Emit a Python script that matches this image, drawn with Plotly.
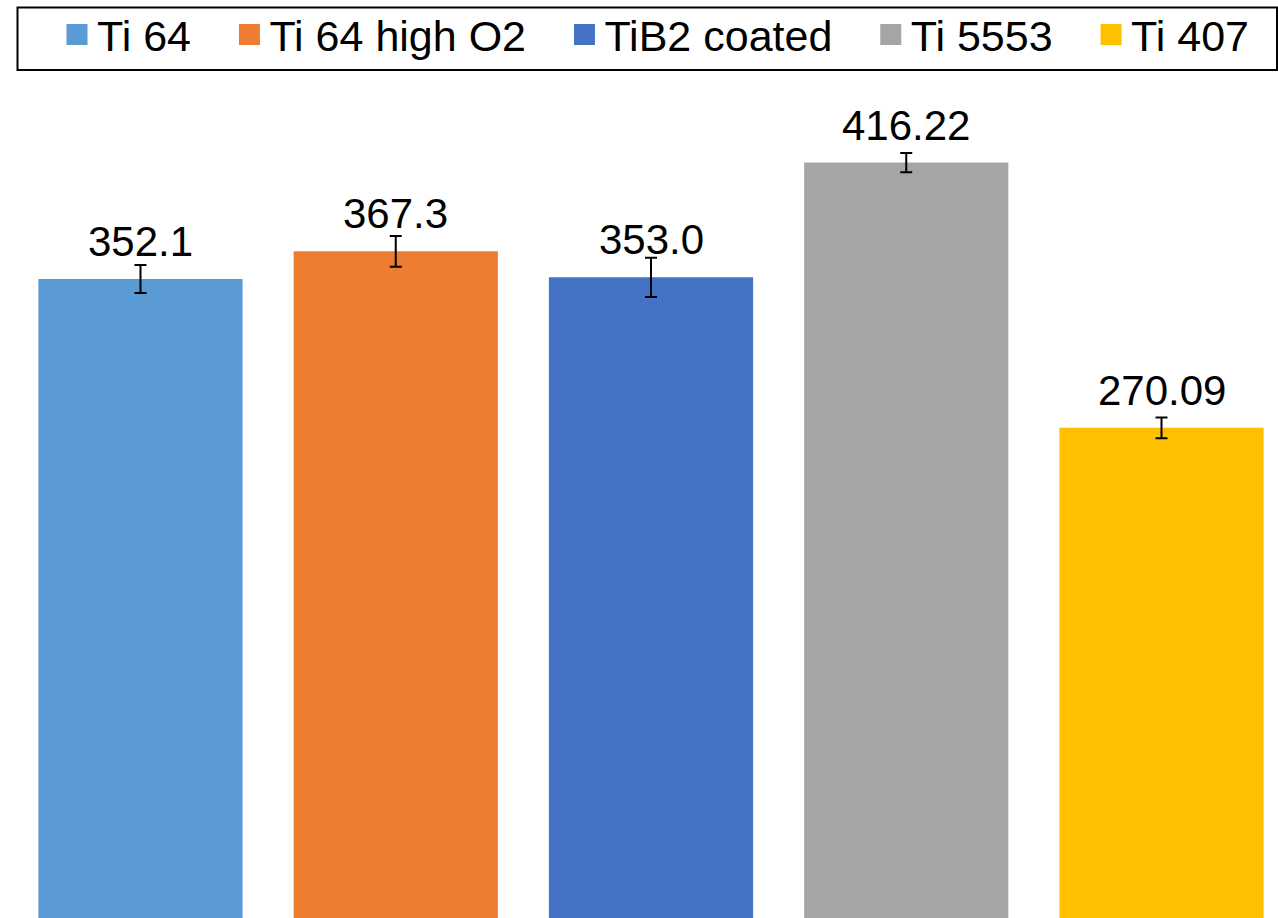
import plotly.graph_objects as go

# Alloy results
alloys = ["Ti 64", "Ti 64 high O2", "TiB2 coated", "Ti 5553", "Ti 407"]
values = [352.1, 367.3, 353.0, 416.22, 270.09]
errors = [7.7, 8.5, 10.8, 5.3, 5.7]
decimals = [1, 1, 1, 2, 2]
colors = ["#5B9BD5", "#ED7D31", "#4472C4", "#A5A5A5", "#FFC000"]

W, H = 1278, 918
FONT = "Liberation Sans, Arial, sans-serif"
PAD = "\u2002\u00a0"  # extra room between legend entries

fig = go.Figure()

n = len(alloys)
for i, (name, v, e, c) in enumerate(zip(alloys, values, errors, colors)):
    fig.add_trace(go.Bar(
        x=[i], y=[v], width=0.8, name=name, showlegend=False,
        marker=dict(color=c, line=dict(width=0)),
        error_y=dict(type="data", array=[e], visible=True,
                     color="black", thickness=2, width=6),
        hoverinfo="skip",
    ))
    # legend entry with a larger square swatch
    fig.add_trace(go.Scatter(
        x=[None], y=[None], mode="markers",
        name=name + (PAD if i < n - 1 else ""),
        marker=dict(symbol="square", size=22, color=c,
                    line=dict(color=c, width=5)),
        showlegend=True, hoverinfo="skip",
    ))
    fig.add_annotation(
        x=i, y=v, text=f"{v:.{decimals[i]}f}", showarrow=False,
        yanchor="bottom", yshift=12,
        font=dict(family=FONT, size=42, color="black"),
    )

# bordered frame around the legend
fig.add_shape(type="rect", xref="paper", yref="paper",
              x0=17.5 / W, x1=1277 / W, y0=1 - 70 / H, y1=1 - 7.5 / H,
              line=dict(color="black", width=2), fillcolor="rgba(0,0,0,0)",
              layer="above")

fig.update_layout(
    width=W, height=H,
    margin=dict(l=0, r=0, t=0, b=0),
    paper_bgcolor="white", plot_bgcolor="white",
    barmode="overlay",
    showlegend=True,
    legend=dict(
        orientation="h", x=57 / W, xanchor="left", y=1, yanchor="top",
        font=dict(family=FONT, size=43, color="black"),
        bgcolor="rgba(0,0,0,0)", borderwidth=0, itemsizing="trace",
        tracegroupgap=0,
    ),
    xaxis=dict(visible=False, range=[-0.5504, 4.4564], fixedrange=True),
    yaxis=dict(visible=False, range=[0, 505.8], fixedrange=True),
    font=dict(family=FONT),
)

fig.write_html("out.html")
